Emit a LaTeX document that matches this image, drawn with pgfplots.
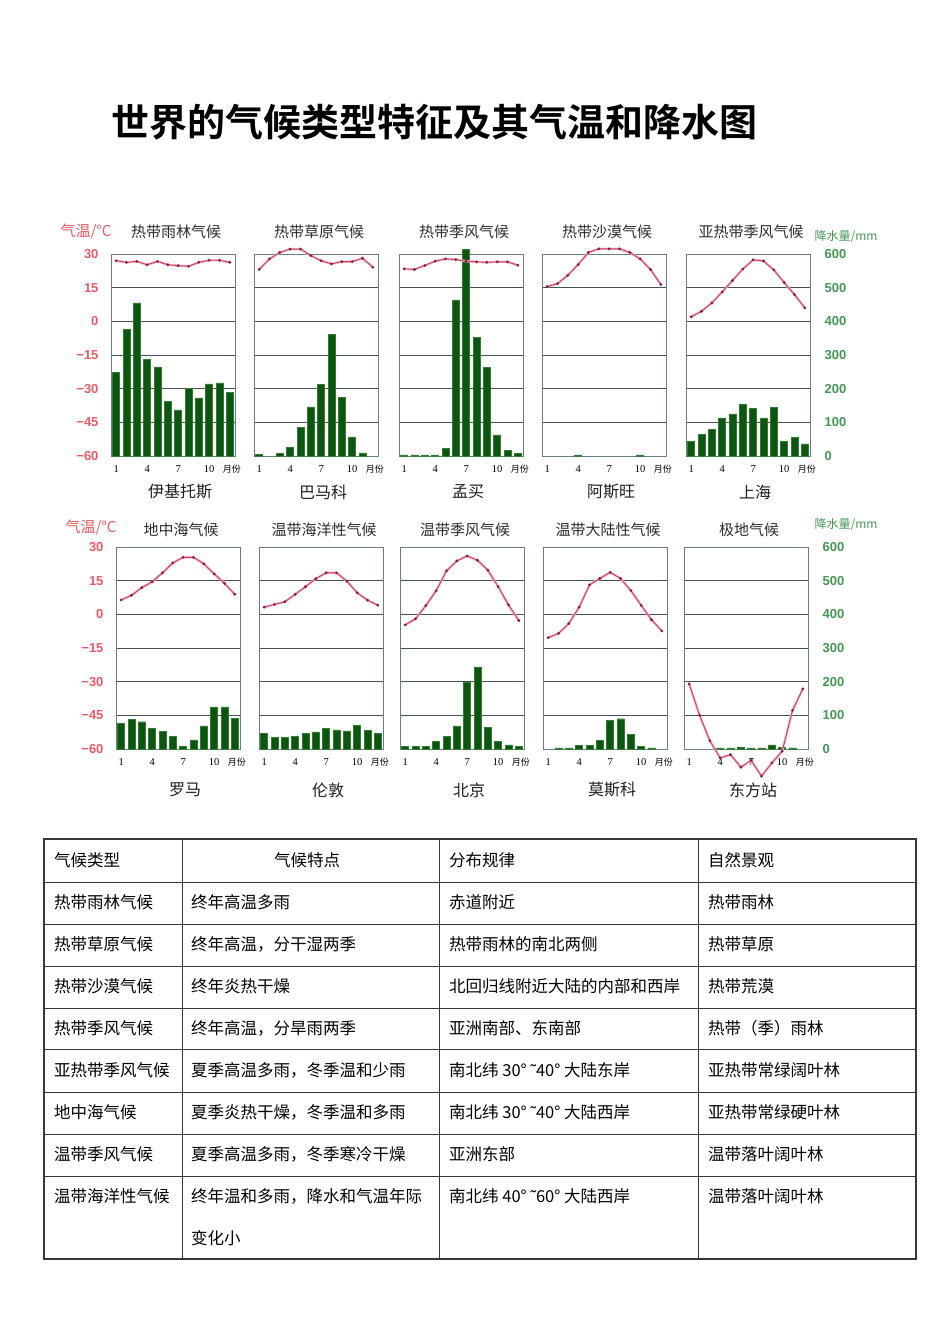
\documentclass[border=0pt]{standalone}
\usepackage{pgfplots}
\pgfplotsset{compat=1.18}
\usepackage{fontspec}
\setmainfont{Liberation Serif}
\newfontfamily\cjk{Noto Sans CJK SC}[BoldFont={Noto Sans CJK SC Bold}]
\newfontfamily\sans{Liberation Sans}
\definecolor{tempc}{RGB}{230,92,104}
\definecolor{precc}{RGB}{70,150,85}
\definecolor{barc}{RGB}{12,86,18}
\definecolor{baredge}{RGB}{50,125,50}
\definecolor{gridc}{RGB}{70,80,88}
\definecolor{framec}{RGB}{105,125,135}
\definecolor{linec}{RGB}{200,65,100}
\definecolor{haloc}{RGB}{242,185,200}
\definecolor{dotc}{RGB}{135,30,55}
\definecolor{titlec}{RGB}{45,45,45}
\definecolor{namec}{RGB}{30,30,30}
\definecolor{tablec}{RGB}{55,55,55}
\pgfplotsset{
 pax/.style={scale only axis, width=124pt, height=202pt, anchor=south west,
  xmin=0.5, xmax=12.5, ymin=0, ymax=600,
  ytick={0,100,200,300,400,500,600}, yticklabels={,,,,,,},
  ymajorgrids, grid style={draw=gridc, line width=0.7pt},
  axis line style={draw=framec, line width=0.9pt}, major tick length=0pt,
  xtick={1,4,7,10,12.2}, xticklabels={1,4,7,10,{\cjk\fontsize{9}{9}\selectfont 月份}},
  xticklabel style={font=\fontsize{10.5}{10.5}\selectfont, anchor=center, yshift=-13pt},
  clip=false, ybar, bar width=7pt},
 tax/.style={scale only axis, width=124pt, height=202pt, anchor=south west,
  xmin=0.5, xmax=12.5, ymin=-60, ymax=30, axis line style={draw=none},
  xtick=\empty, ytick={-60,-45,-30,-15,0,15,30}, yticklabels={,,,,,,}, major tick length=0pt, clip=false},
 tleft/.style={yticklabels={−60,−45,−30,−15,0,15,30},
  yticklabel style={font=\sans\bfseries\fontsize{13}{13}\selectfont, text=tempc, xshift=-9pt}},
 pright/.style={yticklabel pos=right, yticklabels={0,100,200,300,400,500,600},
  yticklabel style={font=\sans\bfseries\fontsize{13}{13}\selectfont, text=precc, anchor=west, xshift=11pt}},
}
\newcommand\panel[8]{%
\begin{axis}[pax,at={(#1pt,-#2pt)},#7]
\addplot[fill=barc,draw=baredge,line width=0.4pt] coordinates {#6};
\end{axis}
\begin{axis}[tax,at={(#1pt,-#2pt)},#8]
\addplot[draw=haloc,line width=2.4pt] coordinates {#5};
\addplot[draw=linec,line width=0.9pt,mark=*,mark size=0.9pt,mark options={draw=dotc,fill=dotc}] coordinates {#5};
\end{axis}
\node[font=\cjk\fontsize{15}{15}\selectfont,text=titlec] at ({#1pt+65pt},{-#2pt+\tgap pt}) {#3};
\node[font=\cjk\fontsize{16}{16}\selectfont,text=namec] at ({#1pt+69pt},{-#2pt-\sgap pt}) {#4};
}
\begin{document}
\begin{tikzpicture}
\path[use as bounding box, fill=white] (0,0) rectangle (945pt,-1337pt);
\node[anchor=west, inner sep=0pt, font=\cjk\bfseries\fontsize{38}{38}\selectfont] at (111pt,-122pt) {世界的气候类型特征及其气温和降水图};
% ---- row 1
\def\tgap{224}\def\sgap{36}
\node[font=\cjk\fontsize{15}{15}\selectfont,text=tempc] at (86pt,-232pt) {气温/°C};
\node[font=\cjk\fontsize{12}{12}\selectfont,text=precc] at (846pt,-237pt) {降水量/mm};
\panel{111}{456}{热带雨林气候}{伊基托斯}
 {(1,27.0)(2,26.3)(3,26.7)(4,25.2)(5,26.7)(6,25.2)(7,24.8)(8,24.5)(9,26.3)(10,27.2)(11,27.2)(12,26.3)}
 {(1,248)(2,376)(3,455)(4,288)(5,265)(6,162)(7,137)(8,200)(9,173)(10,214)(11,217)(12,190)}
 {}{tleft}
\panel{254}{456}{热带草原气候}{巴马科}
 {(1,23.1)(2,27.8)(3,30.7)(4,32.2)(5,32.2)(6,29.3)(7,27.0)(8,25.6)(9,26.6)(10,26.6)(11,28.1)(12,24.1)}
 {(1,5)(3,8)(4,25)(5,86)(6,146)(7,213)(8,362)(9,174)(10,57)(11,9)}
 {}{}
\panel{399}{456}{热带季风气候}{孟买}
 {(1,23.4)(2,23.1)(3,24.9)(4,26.8)(5,27.8)(6,27.5)(7,26.8)(8,26.5)(9,26.3)(10,26.5)(11,26.5)(12,25.0)}
 {(1,3)(2,3)(3,3)(4,3)(5,22)(6,464)(7,613)(8,352)(9,264)(10,63)(11,16)(12,8)}
 {}{}
\panel{542}{456}{热带沙漠气候}{阿斯旺}
 {(1,15.5)(2,16.8)(3,20.5)(4,25.3)(5,30.7)(6,32.3)(7,32.3)(8,32.3)(9,30.7)(10,27.8)(11,23.1)(12,16.4)}
 {(4,3)(10,3)}
 {}{}
\panel{686}{456}{亚热带季风气候}{上海}
 {(1,2.0)(2,4.5)(3,8.2)(4,13.1)(5,18.2)(6,23.3)(7,27.4)(8,26.9)(9,22.9)(10,17.3)(11,11.9)(12,6.0)}
 {(1,44)(2,64)(3,80)(4,113)(5,125)(6,153)(7,141)(8,113)(9,145)(10,44)(11,56)(12,36)}
 {pright}{}
% ---- row 2
\def\tgap{219}\def\sgap{41}
\node[font=\cjk\fontsize{15}{15}\selectfont,text=tempc] at (91pt,-528pt) {气温/°C};
\node[font=\cjk\fontsize{12}{12}\selectfont,text=precc] at (846pt,-525pt) {降水量/mm};
\panel{116}{749}{地中海气候}{罗马}
 {(1,6.4)(2,8.5)(3,11.9)(4,14.5)(5,18.5)(6,22.9)(7,25.4)(8,25.4)(9,22.5)(10,18.0)(11,13.8)(12,8.9)}
 {(1,77)(2,89)(3,81)(4,61)(5,53)(6,37)(7,8)(8,27)(9,69)(10,125)(11,125)(12,92)}
 {}{tleft}
\panel{259}{749}{温带海洋性气候}{伦敦}
 {(1,3.2)(2,4.4)(3,5.6)(4,8.9)(5,12.3)(6,15.9)(7,18.5)(8,18.5)(9,14.8)(10,9.6)(11,6.3)(12,4.1)}
 {(1,46)(2,34)(3,34)(4,38)(5,46)(6,51)(7,62)(8,57)(9,54)(10,70)(11,55)(12,46)}
 {}{}
\panel{400}{749}{温带季风气候}{北京}
 {(1,-4.7)(2,-2.0)(3,3.9)(4,10.5)(5,19.4)(6,23.8)(7,26.0)(8,24.1)(9,19.7)(10,12.3)(11,4.2)(12,-2.8)}
 {(1,8)(2,8)(3,8)(4,23)(5,37)(6,69)(7,197)(8,244)(9,65)(10,23)(11,12)(12,8)}
 {}{}
\panel{543}{749}{温带大陆性气候}{莫斯科}
 {(1,-10.4)(2,-8.5)(3,-4.1)(4,3.2)(5,13.1)(6,16.0)(7,18.7)(8,16.0)(9,10.6)(10,4.0)(11,-2.4)(12,-7.4)}
 {(2,3)(3,3)(4,10)(5,10)(6,26)(7,86)(8,90)(9,44)(10,8)(11,3)}
 {}{}
\panel{684}{749}{极地气候}{东方站}
 {(1,-31.0)(2,-44.9)(3,-56.3)(4,-64.0)(5,-62.5)(6,-68.1)(7,-65.1)(8,-72.1)(9,-66.2)(10,-61.0)(11,-42.8)(12,-33.2)}
 {(4,3)(5,3)(6,5)(7,3)(8,3)(9,12)(10,5)(11,3)}
 {pright}{}
% ---- table
\draw[tablec, line width=1.1pt] (44pt,-839pt) rectangle (916pt,-1259pt);
\foreach \yy in {882,924,966,1008,1049,1092,1134,1176}
  \draw[tablec, line width=0.9pt] (44pt,-\yy pt) -- (916pt,-\yy pt);
\foreach \xx in {182,439,698}
  \draw[tablec, line width=0.9pt] (\xx pt,-839pt) -- (\xx pt,-1259pt);
\begin{scope}[every node/.style={anchor=west, font=\cjk\fontsize{16.5}{16.5}\selectfont, text=black, inner sep=0pt}]
\node at (54pt,-860pt) {气候类型};
\node[anchor=center] at (307pt,-860pt) {气候特点};
\node at (449pt,-860pt) {分布规律};
\node at (708pt,-860pt) {自然景观};
\node at (54pt,-902pt) {热带雨林气候};
\node at (191pt,-902pt) {终年高温多雨};
\node at (449pt,-902pt) {赤道附近};
\node at (708pt,-902pt) {热带雨林};
\node at (54pt,-944pt) {热带草原气候};
\node at (191pt,-944pt) {终年高温，分干湿两季};
\node at (449pt,-944pt) {热带雨林的南北两侧};
\node at (708pt,-944pt) {热带草原};
\node at (54pt,-986pt) {热带沙漠气候};
\node at (191pt,-986pt) {终年炎热干燥};
\node at (449pt,-986pt) {北回归线附近大陆的内部和西岸};
\node at (708pt,-986pt) {热带荒漠};
\node at (54pt,-1028pt) {热带季风气候};
\node at (191pt,-1028pt) {终年高温，分旱雨两季};
\node at (449pt,-1028pt) {亚洲南部、东南部};
\node at (708pt,-1028pt) {热带（季）雨林};
\node at (54pt,-1070pt) {亚热带季风气候};
\node at (191pt,-1070pt) {夏季高温多雨，冬季温和少雨};
\node at (449pt,-1070pt) {南北纬 30°\ {\sans ˜}40°\ 大陆东岸};
\node at (708pt,-1070pt) {亚热带常绿阔叶林};
\node at (54pt,-1112pt) {地中海气候};
\node at (191pt,-1112pt) {夏季炎热干燥，冬季温和多雨};
\node at (449pt,-1112pt) {南北纬 30°\ {\sans ˜}40°\ 大陆西岸};
\node at (708pt,-1112pt) {亚热带常绿硬叶林};
\node at (54pt,-1154pt) {温带季风气候};
\node at (191pt,-1154pt) {夏季高温多雨，冬季寒冷干燥};
\node at (449pt,-1154pt) {亚洲东部};
\node at (708pt,-1154pt) {温带落叶阔叶林};
\node at (54pt,-1196pt) {温带海洋性气候};
\node at (191pt,-1196pt) {终年温和多雨，降水和气温年际};
\node at (191pt,-1238pt) {变化小};
\node at (449pt,-1196pt) {南北纬 40°\ {\sans ˜}60°\ 大陆西岸};
\node at (708pt,-1196pt) {温带落叶阔叶林};
\end{scope}
\end{tikzpicture}
\end{document}
